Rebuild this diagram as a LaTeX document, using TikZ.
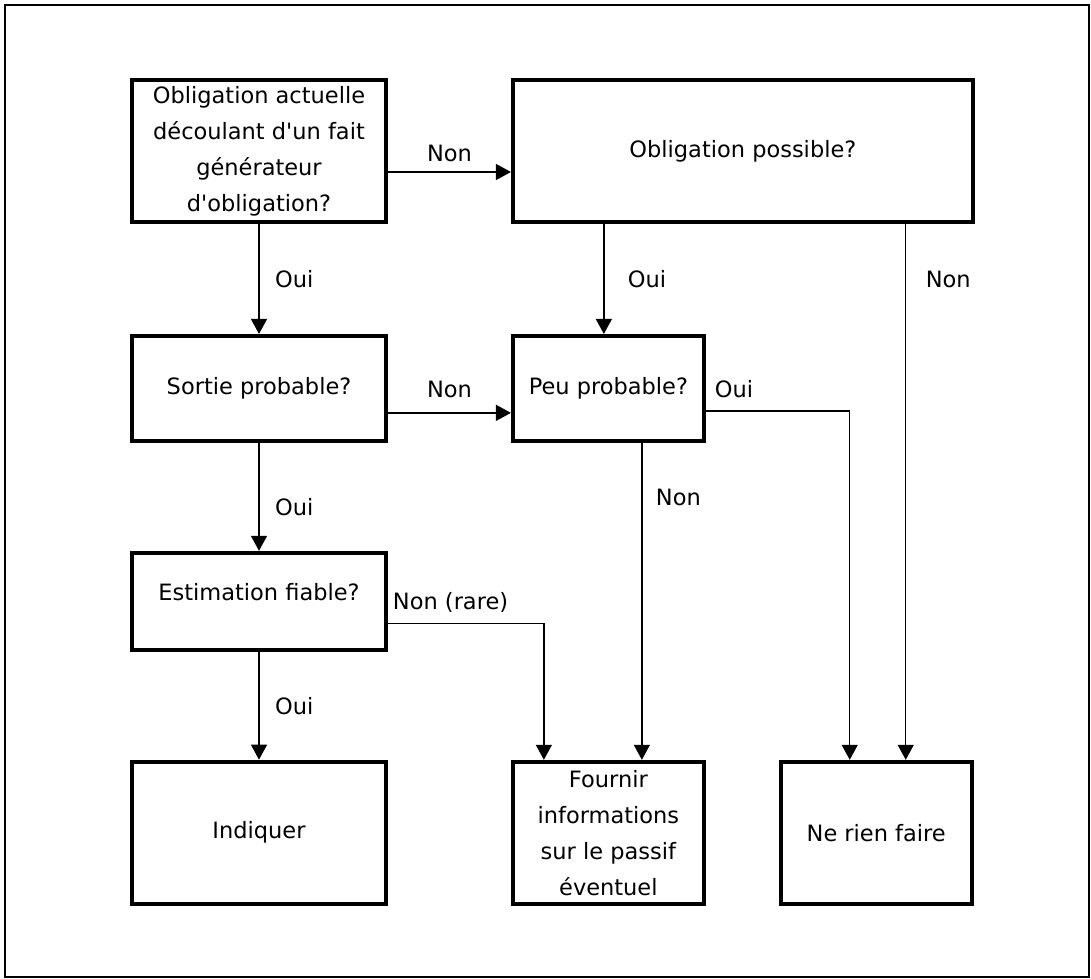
\documentclass[tikz,border=0pt]{standalone}
\usepackage{fontspec}
\newfontfamily\etiq{DejaVu Sans}
\usetikzlibrary{arrows.meta, positioning}

\begin{document}
\begin{tikzpicture}[node distance=2.2cm and 2.46cm,
  every node/.style={font=\etiq\fontsize{12.8}{20.5}\selectfont},
  boite/.style={rectangle, draw, line width=2.2pt, align=center,
    minimum width=5.08cm, minimum height=2.84cm, inner sep=0pt},
  haute/.style={minimum height=2.1cm},
  etroite/.style={minimum width=3.82cm},
  fleche/.style={line width=0.8pt, -{Triangle[length=0.3cm, width=0.32cm]}}]

\useasboundingbox (0,0) rectangle (21.82,-19.58);
\draw[line width=1.2pt] (0.1,-0.1) rectangle (21.78,-19.54);

\node[boite] (actuelle) at (5.18,-3.02) {Obligation actuelle\\découlant d\symbol{39}un fait\\générateur\\d\symbol{39}obligation?};
\node[boite, minimum width=9.2cm, right=of actuelle] (possible) {Obligation possible?};
\node[boite, haute, below=of actuelle] (sortie) {Sortie probable?};
\node[boite, haute, etroite, right=of sortie] (peu) {Peu probable?};
\node[boite, minimum height=1.94cm, below=2.16cm of sortie] (estimation) {Estimation fiable?\\[-0.34cm]\mbox{}};
\node[boite, below=2.16cm of estimation] (indiquer) {Indiquer};
\node[boite, etroite, below=6.34cm of peu] (fournir) {Fournir\\informations\\sur le passif\\éventuel};
\node[boite, etroite, right=1.46cm of fournir] (rien) {Ne rien faire};

\draw[fleche] ([yshift=-0.42cm]actuelle.east) -- node[above, yshift=0.07cm] {Non} ([yshift=-0.42cm]possible.west);
\draw[fleche] (actuelle) -- node[right, xshift=0.19cm] {Oui} (sortie);
\draw[fleche] ([xshift=-0.09cm]peu.north |- possible.south) -- node[right, xshift=0.35cm] {Oui} ([xshift=-0.09cm]peu.north);
\draw[fleche] ([xshift=0.59cm]rien.north |- possible.south) -- node[pos=0.104, right, xshift=0.27cm] {Non} ([xshift=0.59cm]rien.north);
\draw[fleche] ([yshift=-0.49cm]sortie.east) -- node[above, yshift=0.17cm] {Non} ([yshift=-0.49cm]sortie.east -| peu.west);
\draw[fleche] ([yshift=-0.45cm]peu.east) -| node[pos=0, above right, xshift=0.05cm, yshift=0.13cm] {Oui} ([xshift=-0.53cm]rien.north);
\draw[fleche] (sortie) -- node[pos=0.6, right, xshift=0.19cm] {Oui} (estimation);
\draw[fleche] ([xshift=0.67cm]peu.south) -- node[pos=0.174, right, xshift=0.15cm] {Non} ([xshift=0.67cm]fournir.north);
\draw[fleche] ([yshift=-0.45cm]estimation.east) -| node[pos=0, above right, xshift=-0.03cm, yshift=0.09cm] {Non (rare)} ([xshift=-1.29cm]fournir.north);
\draw[fleche] (estimation) -- node[right, xshift=0.19cm] {Oui} (indiquer);

\end{tikzpicture}
\end{document}
